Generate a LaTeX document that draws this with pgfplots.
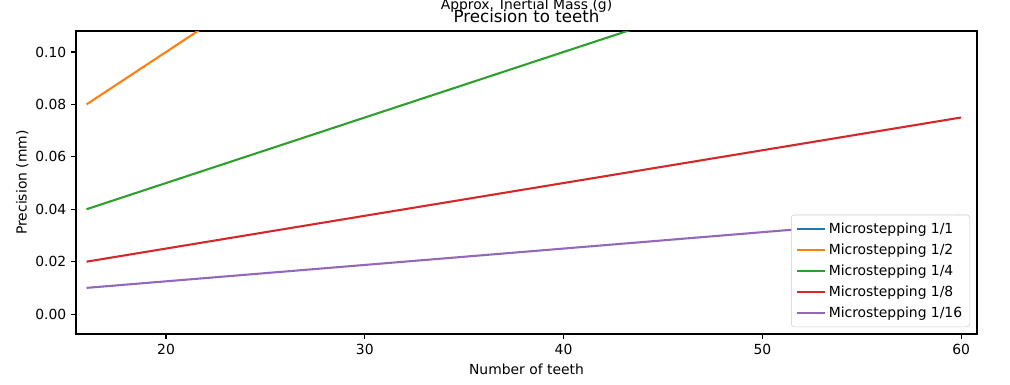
\documentclass[border=0pt]{standalone}
\usepackage{fontspec}
\setmainfont{DejaVu Sans}
\usepackage{pgfplots}
\pgfplotsset{compat=1.18}
\definecolor{c0}{HTML}{1F77B4}
\definecolor{c1}{HTML}{FF7F0E}
\definecolor{c2}{HTML}{2CA02C}
\definecolor{c3}{HTML}{D62728}
\definecolor{c4}{HTML}{9467BD}
\begin{document}
\begin{tikzpicture}
\useasboundingbox (-54.72pt,-36pt) rectangle (672.48pt,240.48pt);
\begin{axis}[
  at={(0,0)}, anchor=south west,
  scale only axis, width=648.72pt, height=218.16pt,
  xmin=15.47, xmax=60.8, ymin=-0.0076, ymax=0.108,
  xtick={20,30,40,50,60},
  ytick={0,0.02,0.04,0.06,0.08,0.1},
  yticklabel style={/pgf/number format/.cd, fixed, fixed zerofill, precision=2},
  /pgf/number format/assume math mode=true,
  tick label style={font=\fontsize{10}{12}\selectfont},
  label style={font=\fontsize{10}{12}\selectfont},
  tick align=outside, tick pos=left,
  major tick length=3.5pt,
  every tick/.style={black, line width=0.8pt},
  axis line style={line width=0.8pt},
  xlabel={Number of teeth}, ylabel={Precision (mm)},
  xlabel style={yshift=0pt},
  ylabel style={yshift=-2pt},
  legend cell align=left,
  legend style={at={(1,0)}, anchor=south east, xshift=-5pt, yshift=5pt,
    font=\fontsize{10}{12}\selectfont, draw=black!20, rounded corners=2pt,
    row sep=2pt, inner sep=3.5pt},
  legend image code/.code={\draw[#1] (0pt,0pt) -- (20pt,0pt);},
]
\addplot[c0, line width=1.5pt] coordinates {(16,0.16) (20,0.2) (30,0.3) (40,0.4) (50,0.5) (60,0.6)};
\addlegendentry{Microstepping 1/1}
\addplot[c1, line width=1.5pt] coordinates {(16,0.08) (20,0.1) (30,0.15) (40,0.2) (50,0.25) (60,0.3)};
\addlegendentry{Microstepping 1/2}
\addplot[c2, line width=1.5pt] coordinates {(16,0.04) (20,0.05) (30,0.075) (40,0.1) (50,0.125) (60,0.15)};
\addlegendentry{Microstepping 1/4}
\addplot[c3, line width=1.5pt] coordinates {(16,0.02) (20,0.025) (30,0.0375) (40,0.05) (50,0.0625) (60,0.075)};
\addlegendentry{Microstepping 1/8}
\addplot[c4, line width=1.5pt] coordinates {(16,0.01) (20,0.0125) (30,0.01875) (40,0.025) (50,0.03125) (60,0.0375)};
\addlegendentry{Microstepping 1/16}
\end{axis}
\node[font=\fontsize{12}{14}\selectfont] at (324.36pt,228.5pt) {Precision to teeth};
\node[font=\fontsize{10}{12}\selectfont] at (324.36pt,236.5pt) {Approx. Inertial Mass (g)};
\end{tikzpicture}
\end{document}
